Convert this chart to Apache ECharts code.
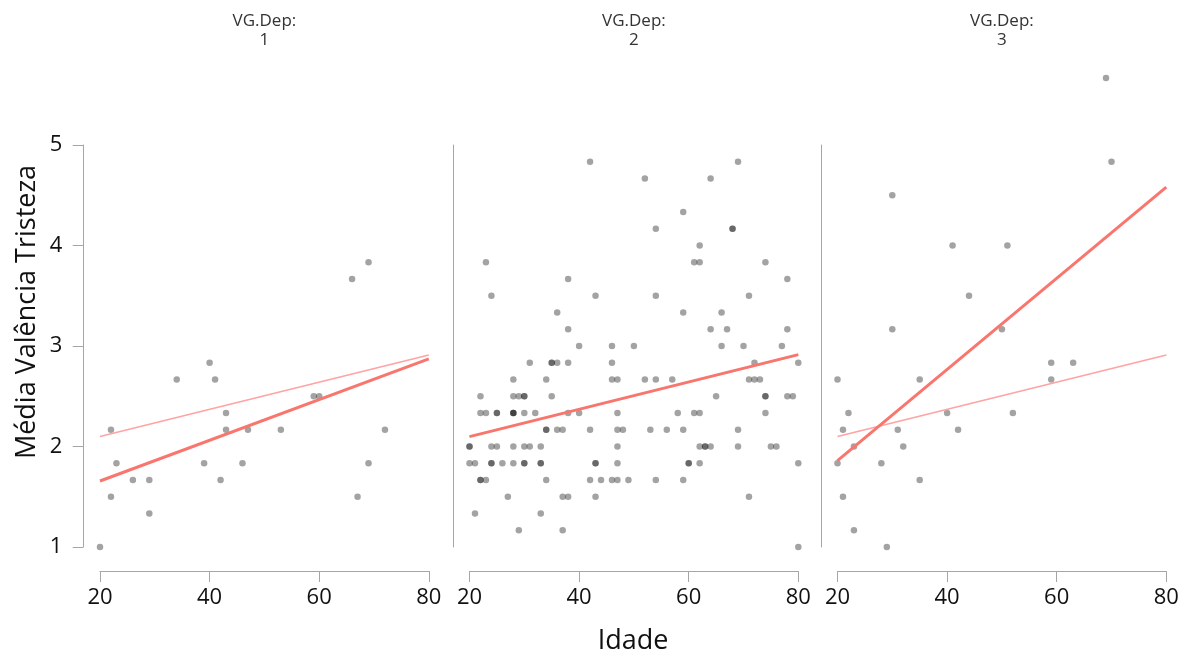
<!DOCTYPE html>
<html>
<head>
<meta charset="utf-8">
<script src="https://cdn.jsdelivr.net/npm/echarts@6/dist/echarts.min.js"></script>
<style>
html,body{margin:0;padding:0;background:#fff;}
#chart{width:1187px;height:653px;}
</style>
</head>
<body>
<div id="chart"></div>
<script>
// ---- data ----
const panelTitles = ['VG.Dep:\n1', 'VG.Dep:\n2', 'VG.Dep:\n3'];
const xTicks = [20, 40, 60, 80];
const yTicks = [1, 2, 3, 4, 5];

const ages1 = [20,22,22,23,26,29,29,34,39,40,41,42,43,43,46,47,53,59,60,66,67,69,69,72];
const vals1 = [1,2.167,1.5,1.833,1.667,1.667,1.333,2.667,1.833,2.833,2.667,1.667,2.333,2.167,1.833,2.167,2.167,2.5,2.5,3.667,1.5,3.833,1.833,2.167];

const ages2 = [
  42,69,52,64,59,54,68,68,62,
  23,61,62,74,
  38,78,
  24,43,54,71,
  36,59,66,
  38,64,67,78,
  40,46,50,66,70,77,
  31,35,35,36,38,46,72,80,
  28,34,46,47,52,54,57,71,72,73,
  22,28,29,30,30,35,65,74,74,78,79,
  22,23,25,25,28,28,28,30,32,38,40,47,58,61,62,74,
  34,34,36,37,42,47,48,53,56,59,69,
  20,20,24,25,28,30,31,33,47,62,63,63,64,69,75,76,
  20,21,24,24,26,28,30,30,33,33,43,43,47,60,60,62,80,
  22,22,23,34,42,44,46,47,49,54,59,
  27,37,38,43,71,
  21,33,
  29,37,
  80
];
const vals2 = [
  4.833,4.833,4.667,4.667,4.333,4.167,4.167,4.167,4.0,
  3.833,3.833,3.833,3.833,
  3.667,3.667,
  3.5,3.5,3.5,3.5,
  3.333,3.333,3.333,
  3.167,3.167,3.167,3.167,
  3.0,3.0,3.0,3.0,3.0,3.0,
  2.833,2.833,2.833,2.833,2.833,2.833,2.833,2.833,
  2.667,2.667,2.667,2.667,2.667,2.667,2.667,2.667,2.667,2.667,
  2.5,2.5,2.5,2.5,2.5,2.5,2.5,2.5,2.5,2.5,2.5,
  2.333,2.333,2.333,2.333,2.333,2.333,2.333,2.333,2.333,2.333,2.333,2.333,2.333,2.333,2.333,2.333,
  2.167,2.167,2.167,2.167,2.167,2.167,2.167,2.167,2.167,2.167,2.167,
  2.0,2.0,2.0,2.0,2.0,2.0,2.0,2.0,2.0,2.0,2.0,2.0,2.0,2.0,2.0,2.0,
  1.833,1.833,1.833,1.833,1.833,1.833,1.833,1.833,1.833,1.833,1.833,1.833,1.833,1.833,1.833,1.833,1.833,
  1.667,1.667,1.667,1.667,1.667,1.667,1.667,1.667,1.667,1.667,1.667,
  1.5,1.5,1.5,1.5,1.5,
  1.333,1.333,
  1.167,1.167,
  1.0
];

const ages3 = [69,70,30,41,51,44,30,50,20,35,59,63,59,22,40,52,21,31,42,23,32,20,28,35,21,23,29];
const vals3 = [5.667,4.833,4.5,4.0,4.0,3.5,3.167,3.167,2.667,2.667,2.833,2.833,2.667,2.333,2.333,2.333,2.167,2.167,2.167,2.0,2.0,1.833,1.833,1.667,1.5,1.167,1.0];

// regression line end points (x = 20 and x = 80)
const fitX = [20, 80];
const fitAllY = [2.10, 2.91];
const fit1Y = [1.657, 2.871];
const fit2Y = [2.098, 2.914];
const fit3Y = [1.86, 4.58];

// ---- build ----
const FONT = "'Open Sans', 'DejaVu Sans', sans-serif";
const AXIS_COLOR = '#a6a6a6';
const panels = [
  {ages: ages1, vals: vals1, fit: fit1Y},
  {ages: ages2, vals: vals2, fit: fit2Y},
  {ages: ages3, vals: vals3, fit: fit3Y}
];
const gridLefts = [100, 469.5, 837.5];
const gridW = 328.8, gridTop = 145, gridH = 402;

const pairs = (xs, ys) => xs.map((x, i) => [x, ys[i]]);

const grids = [], xAxes = [], yAxes = [], series = [], graphics = [];
panels.forEach((p, i) => {
  grids.push({left: gridLefts[i], top: gridTop, width: gridW, height: gridH, containLabel: false});
  xAxes.push({
    type: 'value', gridIndex: i, min: xTicks[0], max: xTicks[xTicks.length - 1], interval: 20,
    offset: 24,
    axisLine: {show: true, lineStyle: {color: AXIS_COLOR, width: 1}},
    axisTick: {show: true, length: 11, lineStyle: {color: AXIS_COLOR, width: 1}},
    axisLabel: {show: true, fontSize: 22, color: '#111111', margin: 16, fontFamily: FONT},
    splitLine: {show: false}
  });
  yAxes.push({
    type: 'value', gridIndex: i, min: yTicks[0], max: yTicks[yTicks.length - 1], interval: 1,
    offset: 16.7,
    axisLine: {show: true, lineStyle: {color: AXIS_COLOR, width: 1}},
    axisTick: {show: i === 0, length: 10.6, lineStyle: {color: AXIS_COLOR, width: 1}},
    axisLabel: {show: i === 0, fontSize: 22, color: '#111111', margin: 21, fontFamily: FONT},
    splitLine: {show: false}
  });
  series.push({
    type: 'scatter', xAxisIndex: i, yAxisIndex: i, clip: false,
    data: pairs(p.ages, p.vals), symbol: 'circle', symbolSize: 6.5,
    itemStyle: {color: 'rgba(0,0,0,0.45)', borderWidth: 0},
    emphasis: {disabled: true}, z: 2
  });
  series.push({
    type: 'line', xAxisIndex: i, yAxisIndex: i, data: pairs(fitX, fitAllY),
    showSymbol: false, symbol: 'none', lineStyle: {color: '#ffa3a3', width: 1.6}, z: 3, silent: true
  });
  series.push({
    type: 'line', xAxisIndex: i, yAxisIndex: i, data: pairs(fitX, p.fit),
    showSymbol: false, symbol: 'none', lineStyle: {color: '#f8766d', width: 3}, z: 4, silent: true
  });
  graphics.push({
    type: 'text', x: gridLefts[i] + gridW / 2, y: 30.5,
    style: {text: panelTitles[i], x: 0, y: 0, align: 'center', verticalAlign: 'middle',
      textAlign: 'center', textVerticalAlign: 'middle',
      font: "17px " + FONT, lineHeight: 19, fill: '#333333'}
  });
});

graphics.push({
  type: 'text', x: 27, y: 312, rotation: Math.PI / 2,
  style: {text: 'Média Valência Tristeza', x: 0, y: 0, align: 'center', verticalAlign: 'middle',
    textAlign: 'center', textVerticalAlign: 'middle', font: "27px " + FONT, fill: '#111111'}
});
graphics.push({
  type: 'text', x: 633, y: 641,
  style: {text: 'Idade', x: 0, y: 0, align: 'center', verticalAlign: 'middle',
    textAlign: 'center', textVerticalAlign: 'middle', font: "27px " + FONT, fill: '#111111'}
});

const chart = echarts.init(document.getElementById('chart'), null, {renderer: 'canvas'});
chart.setOption({
  animation: false,
  backgroundColor: '#ffffff',
  grid: grids,
  xAxis: xAxes,
  yAxis: yAxes,
  series: series,
  graphic: graphics
});
</script>
</body>
</html>
